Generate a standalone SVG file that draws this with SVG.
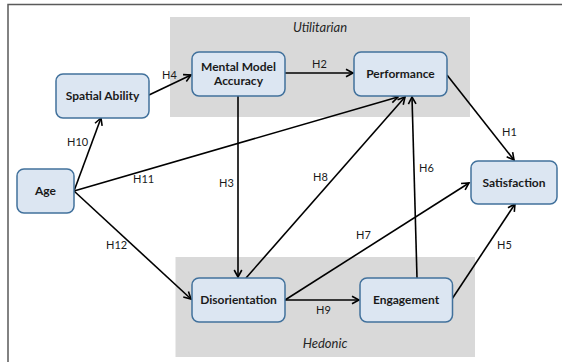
<svg xmlns="http://www.w3.org/2000/svg" width="562" height="362" viewBox="0 0 562 362">
<style>
.frame{fill:none;stroke:#5a5a5a;stroke-width:1.5}
.zone{fill:#d9d9d9}
.zt{font-family:Lato,"Liberation Sans",sans-serif;font-style:italic;font-size:13px;fill:#262626;text-anchor:middle}
.box{fill:#dce6f2;stroke:#41719c;stroke-width:1.5}
.nt{font-family:Lato,"Liberation Sans",sans-serif;font-weight:bold;font-size:12px;fill:#1a1a1a;text-anchor:middle}
.e{stroke:#000;stroke-width:1.6;fill:none;marker-end:url(#ah)}
.lb{font-family:Lato,"Liberation Sans",sans-serif;font-size:11px;fill:#1a1a1a}
</style>
<defs>
<marker id="ah" markerUnits="userSpaceOnUse" markerWidth="12" markerHeight="12" viewBox="-10 -6 12 12" refX="0" refY="0" orient="auto">
<path d="M-7,-3.8 L0,0 L-7,3.8" fill="none" stroke="#000" stroke-width="1.6"/>
</marker>
</defs>
<rect width="562" height="362" fill="#fff"/>
<path class="frame" d="M8,362 V4.5 H562"/>
<g id="utilitarian">
<rect class="zone" x="170" y="17" width="300" height="100"/>
<text class="zt" x="320" y="32">Utilitarian</text>
</g>
<g id="hedonic">
<rect class="zone" x="175.5" y="257" width="299.5" height="100"/>
<text class="zt" x="325" y="348">Hedonic</text>
</g>
<g id="connectors">
<line class="e" x1="74" y1="191" x2="101" y2="118"/>
<line class="e" x1="74" y1="191" x2="398" y2="97"/>
<line class="e" x1="74" y1="191" x2="191" y2="299"/>
<line class="e" x1="149" y1="95" x2="191" y2="75"/>
<line class="e" x1="285" y1="73" x2="353" y2="73"/>
<line class="e" x1="238" y1="96" x2="238" y2="277"/>
<line class="e" x1="246" y1="278" x2="405" y2="97"/>
<line class="e" x1="417" y1="278" x2="412" y2="97"/>
<line class="e" x1="447" y1="75" x2="514" y2="160"/>
<line class="e" x1="285" y1="300" x2="469" y2="183"/>
<line class="e" x1="452" y1="299" x2="515" y2="204"/>
<line class="e" x1="285" y1="300" x2="359" y2="300"/>
<text class="lb" x="67" y="146">H10</text>
<text class="lb" x="133" y="183">H11</text>
<text class="lb" x="106" y="249">H12</text>
<text class="lb" x="162" y="79">H4</text>
<text class="lb" x="312" y="68">H2</text>
<text class="lb" x="219" y="187">H3</text>
<text class="lb" x="313" y="181">H8</text>
<text class="lb" x="419" y="172">H6</text>
<text class="lb" x="502" y="136">H1</text>
<text class="lb" x="356" y="239">H7</text>
<text class="lb" x="497" y="249">H5</text>
<text class="lb" x="316" y="314">H9</text>
</g>
<g id="spatial-ability">
<rect class="box" x="56" y="74" width="93" height="44" rx="7"/>
<text class="nt" x="102.5" y="100">Spatial Ability</text>
</g>
<g id="mental-model-accuracy">
<rect class="box" x="192" y="52" width="93" height="44" rx="7"/>
<text class="nt" x="238.5" y="71">Mental Model</text>
<text class="nt" x="238.5" y="85">Accuracy</text>
</g>
<g id="performance">
<rect class="box" x="354" y="52" width="93" height="44" rx="7"/>
<text class="nt" x="400.5" y="78">Performance</text>
</g>
<g id="age">
<rect class="box" x="17" y="169" width="57" height="44" rx="7"/>
<text class="nt" x="45.5" y="195">Age</text>
</g>
<g id="satisfaction">
<rect class="box" x="471" y="161" width="86" height="43" rx="7"/>
<text class="nt" x="514" y="187">Satisfaction</text>
</g>
<g id="disorientation">
<rect class="box" x="192" y="278" width="93" height="44" rx="7"/>
<text class="nt" x="238.5" y="304">Disorientation</text>
</g>
<g id="engagement">
<rect class="box" x="360" y="278" width="92.5" height="44" rx="7"/>
<text class="nt" x="406" y="304">Engagement</text>
</g>
</svg>
